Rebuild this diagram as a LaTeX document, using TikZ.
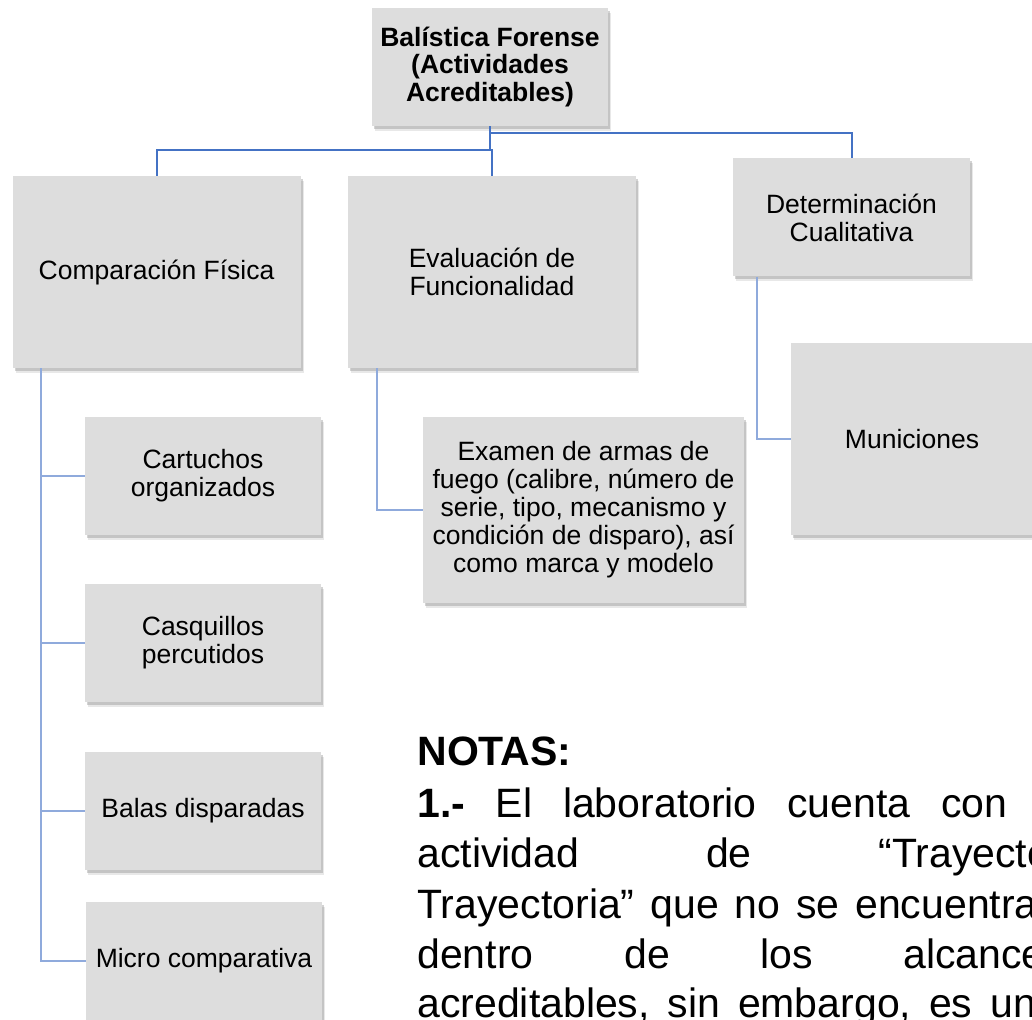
\documentclass[tikz,border=0pt]{standalone}
\usepackage{fontspec}
\setmainfont{Liberation Sans}
\usetikzlibrary{calc,shadows}
\definecolor{boxgray}{RGB}{221,221,221}
\definecolor{linkdark}{RGB}{68,114,196}
\definecolor{linklight}{RGB}{143,170,220}

\begin{document}
\begin{tikzpicture}[
  x=0.5pt, y=-0.5pt,
  every node/.style={inner sep=0pt},
  card/.style={fill=boxgray, align=center,
    font=\fontsize{13.25pt}{14pt}\selectfont,
    drop shadow={shadow xshift=1.5pt, shadow yshift=-2.5pt, opacity=0.18},
    drop shadow={shadow xshift=1pt, shadow yshift=-1.5pt, opacity=0.35}},
  small/.style={card, minimum width=118pt, minimum height=59pt},
  large/.style={card, minimum width=144pt, minimum height=96pt},
  head/.style={small, font=\fontsize{13.25pt}{13.75pt}\selectfont\bfseries},
  link/.style={draw=linkdark, line width=1pt},
  sublink/.style={draw=linklight, line width=1pt},
  note/.style={anchor=base west, font=\fontsize{20.5pt}{25pt}\selectfont},
]
\clip (0,0) rectangle (1032,1020);

\node[head] (root) at (490,67) {Balística Forense\\(Actividades\\Acreditables)};

\node[large] (comp) at (156.5,272) {Comparación Física};
\node[large] (eval) at (492,272) {Evaluación de\\Funcionalidad};
\node[small, minimum width=118.5pt] (det) at (851.5,217.5) {Determinación\\Cualitativa};

\node[small] (cart) at (203,476) {Cartuchos\\organizados};
\node[small] (casq) at (203,643) {Casquillos\\percutidos};
\node[small] (balas) at (203,811) {Balas disparadas};
\node[small] (micro) at (204,961) {Micro comparativa};

\node[card, minimum width=160.5pt, minimum height=93pt] (exam) at (583.5,510)
  {Examen de armas de\\fuego (calibre, número de\\serie, tipo, mecanismo y\\condición de disparo), así\\como marca y modelo};
\node[card, minimum width=121pt, minimum height=96pt] (mun) at (912,439) {Municiones};

\draw[link] (root.south) |- ($(comp.north)+(0,-26)$) -- (comp.north);
\draw[link] (root.south) |- ($(eval.north)+(0,-26)$) -- (eval.north);
\draw[link] (root.south) |- ($(det.north)+(0,-25)$) -- (det.north);

\foreach \leaf in {cart,casq,balas,micro}
  \draw[sublink] ($(comp.south west)+(29,0)$) |- (\leaf.west);
\draw[sublink] ($(eval.south west)+(29,0)$) |- (exam.west);
\draw[sublink] ($(det.south west)+(24,0)$) |- (mun.west);

\node[note, font=\fontsize{20.5pt}{25pt}\selectfont\bfseries] (notas) at (417,765) {NOTAS:};
\node[note] (nota1) at (417,817) {\hbox to 295pt{\textbf{1.-}\hfill El\hfill laboratorio\hfill cuenta\hfill con}};
\node[note] (nota2) at (417,867) {\hbox to 230.5pt{actividad\hfill de\hfill}“Trayectoria};
\node[note] (nota3) at (417,918) {\hbox to 219pt{Trayectoria”\hfill que\hfill no\hfill se\hfill}encuentra};
\node[note] (nota4) at (417,968) {\hbox to 243pt{dentro\hfill de\hfill los\hfill}alcances};
\node[note] (nota5) at (417,1017) {\hbox to 286.5pt{acreditables,\hfill sin\hfill embargo,\hfill es\hfill}un};

\end{tikzpicture}
\end{document}
